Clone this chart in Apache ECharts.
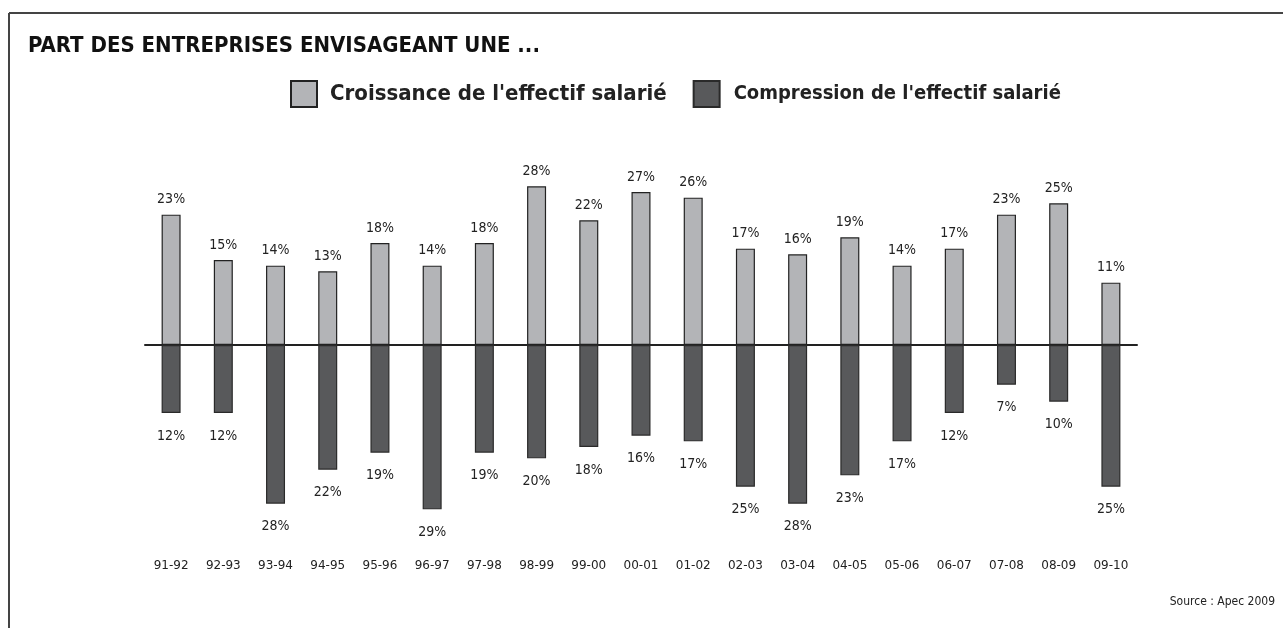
<!DOCTYPE html>
<html>
<head>
<meta charset="utf-8">
<script src="https://cdn.jsdelivr.net/npm/echarts@6/dist/echarts.min.js"></script>
<style>
  html, body { margin: 0; padding: 0; background: #fff; }
  #chart { width: 1283px; height: 628px; }
</style>
</head>
<body>
<div id="chart"></div>
<script>
// Données
const periodes = ['91-92', '92-93', '93-94', '94-95', '95-96', '96-97', '97-98', '98-99', '99-00', '00-01',
    '01-02', '02-03', '03-04', '04-05', '05-06', '06-07', '07-08', '08-09', '09-10'];
const croissance = [23, 15, 14, 13, 18, 14, 18, 28, 22, 27, 26, 17, 16, 19, 14, 17, 23, 25, 11];
const compression = [12, 12, 28, 22, 19, 29, 19, 20, 18, 16, 17, 25, 28, 23, 17, 12, 7, 10, 25];

const FONT = '"DejaVu Sans Condensed", "DejaVu Sans", sans-serif';

const chart = echarts.init(document.getElementById('chart'));

const option = {
    animation: false,
    backgroundColor: '#ffffff',
    textStyle: { fontFamily: FONT },
    title: {
        text: 'PART DES ENTREPRISES ENVISAGEANT UNE ...',
        left: 23,
        top: 30,
        textStyle: { fontFamily: FONT, fontSize: 22, fontWeight: 'bold', color: '#111' }
    },
    legend: {
        top: 75,
        left: 285,
        icon: 'rect',
        itemWidth: 26,
        itemHeight: 26,
        itemGap: 26,
        selectedMode: false,
        textStyle: { fontFamily: FONT, fontSize: 22, fontWeight: 'bold', color: '#222', padding: [0, 0, 0, 8] },
        data: [
            { name: "Croissance de l'effectif salarié" },
            { name: "Compression de l'effectif salarié", textStyle: { fontSize: 20, padding: [0, 0, 0, 9] } }
        ]
    },
    grid: {
        left: 145,
        width: 992,
        top: 175,
        height: 340
    },
    xAxis: [
        {
            type: 'category',
            data: periodes,
            axisLine: { onZero: true, lineStyle: { color: '#222', width: 2 } },
            axisTick: { show: false },
            axisLabel: { show: false }
        },
        {
            type: 'category',
            data: periodes,
            position: 'bottom',
            axisLine: { show: false },
            axisTick: { show: false },
            axisLabel: { margin: 45, fontFamily: '"DejaVu Sans", sans-serif', fontSize: 12, color: '#222' }
        }
    ],
    yAxis: {
        type: 'value',
        min: -30,
        max: 30,
        show: false,
        splitLine: { show: false }
    },
    series: [
        {
            name: "Croissance de l'effectif salarié",
            type: 'bar',
            data: croissance,
            barWidth: 19,
            barGap: '-100%',
            itemStyle: { color: '#b3b4b7', borderColor: '#222', borderWidth: 1.2 },
            label: {
                show: true,
                position: 'top',
                distance: 8,
                formatter: p => p.value + '%',
                fontFamily: FONT, fontSize: 14, color: '#222'
            }
        },
        {
            name: "Compression de l'effectif salarié",
            type: 'bar',
            data: compression.map(v => -v),
            barWidth: 19,
            barGap: '-100%',
            itemStyle: { color: '#58595b', borderColor: '#2a2a2a', borderWidth: 1.2 },
            label: {
                show: true,
                position: 'bottom',
                distance: 16,
                formatter: p => (-p.value) + '%',
                fontFamily: FONT, fontSize: 14, color: '#222'
            }
        }
    ],
    graphic: [
        { type: 'line', shape: { x1: 9, y1: 13, x2: 1283, y2: 13 }, style: { stroke: '#444', lineWidth: 2 } },
        { type: 'line', shape: { x1: 9, y1: 13, x2: 9, y2: 628 }, style: { stroke: '#444', lineWidth: 2 } },
        {
            type: 'text',
            right: 8,
            top: 596,
            style: { text: 'Source : Apec 2009', fontFamily: FONT, fontSize: 12, fill: '#222' }
        }
    ]
};

chart.setOption(option);
</script>
</body>
</html>
